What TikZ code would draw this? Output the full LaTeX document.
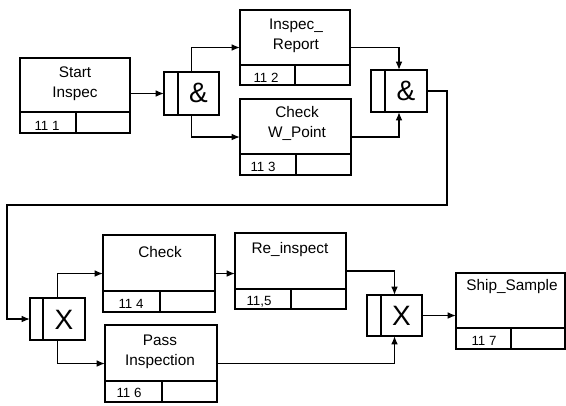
\documentclass[tikz,border=0pt]{standalone}
\usepackage{fontspec}
\setmainfont{Liberation Sans}
\usetikzlibrary{fit,arrows.meta}
\tikzset{
  boxline/.style={line width=1.1pt},
  conn/.style={line width=0.8pt,-{Latex[length=6pt,width=5pt]}},
  lbl/.style={inner sep=0pt,align=center,font=\fontsize{11.5}{15}\selectfont},
  num/.style={inner sep=0pt,font=\fontsize{10}{11}\selectfont},
  sym/.style={inner sep=0pt,font=\fontsize{21}{22}\selectfont},
}
% name x1 y1 x2 y2 ydiv xdiv
\newcommand\pbox[7]{%
  \draw[boxline] (#2,#3) rectangle (#4,#5);
  \draw[boxline] (#2,#6) -- (#4,#6) (#7,#6) -- (#7,#5);
  \node[inner sep=0pt,fit={(#2,#3)(#4,#5)}] (#1) {};
}
% name x1 y1 x2 y2 xdiv
\newcommand\jbox[6]{%
  \draw[boxline] (#2,#3) rectangle (#4,#5);
  \draw[boxline] (#6,#3) -- (#6,#5);
  \node[inner sep=0pt,fit={(#2,#3)(#4,#5)}] (#1) {};
}
\begin{document}
\begin{tikzpicture}[x=0.75pt,y=-0.75pt]
\useasboundingbox (0,0) rectangle (566,405);
% process boxes
\pbox{si}{20}{58}{130}{133}{112}{76}
\pbox{ir}{240}{10}{350}{85}{65}{295}
\pbox{cw}{240}{99}{351}{175}{154}{296}
\pbox{ck}{103}{235}{215}{312}{291}{160}
\pbox{ri}{235}{233}{346}{309}{289}{291}
\pbox{pi}{105}{325}{217}{402}{381}{162}
\pbox{ss}{456}{273}{565}{349}{328}{511}
% junctions
\jbox{ja}{164}{72}{219}{115}{178}
\jbox{jb}{371}{70}{427}{112}{385}
\jbox{xa}{30}{298}{85}{340}{43}
\jbox{xb}{367}{295}{422}{336}{381}
% texts
\node[lbl] at (75,84) {Start\\Inspec};
\node[num] at (47,126) {11 1};
\node[lbl] at (296,36) {Inspec\_\\Report};
\node[num] at (266,78) {11 2};
\node[lbl] at (297,123) {Check\\W\_Point};
\node[num] at (263,167) {11 3};
\node[lbl] at (160,252) {Check};
\node[num] at (131,304) {11 4};
\node[lbl] at (290,250) {Re\_inspect};
\node[num] at (259,302) {11,5};
\node[lbl] at (160,352) {Pass\\Inspection};
\node[num] at (129,393) {11 6};
\node[lbl] at (512,287) {Ship\_Sample};
\node[num] at (484,341) {11 7};
\node[sym] at (198.5,93) {\&};
\node[sym] at (406,91) {\&};
\node[sym] at (64,320) {X};
\node[sym] at (401.5,316) {X};
% connectors
\draw[conn] (ja.west -| si.east) -- (ja.west);
\draw[conn] (ja.north) |- (ir.west);
\draw[conn] (ja.south) |- (cw.west);
\draw[conn] (ir.east) -| (jb.north);
\draw[conn] (cw.east) -| (jb.south);
\coordinate (t1) at (447,205);
\coordinate (t2) at (7,205);
\draw[conn] (jb.east) -| (t1) -- (t2) |- (xa.west);
\draw[conn] (xa.north) |- (ck.west);
\draw[conn] (xa.south) |- (pi.west);
\draw[conn] (ck.east) -- (ck.east -| ri.west);
\draw[conn] (ri.east) -| (xb.north);
\draw[conn] (pi.east) -| (xb.south);
\draw[conn] (xb.east) -- (xb.east -| ss.west);
\end{tikzpicture}
\end{document}
